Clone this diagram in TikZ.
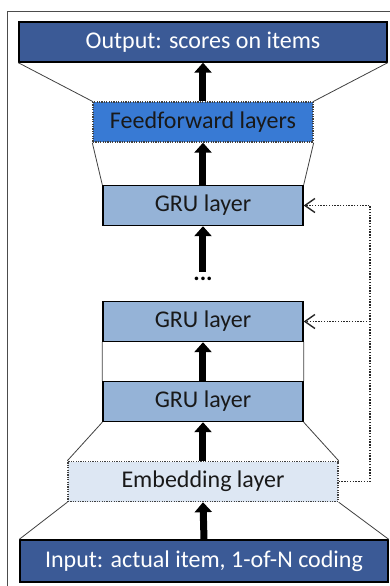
\documentclass[tikz,border=0pt]{standalone}
\usepackage{fontspec}
\setmainfont{Carlito}
\usetikzlibrary{arrows.meta,positioning}

\definecolor{darkblue}{RGB}{59,90,150}
\definecolor{ffblue}{RGB}{56,122,212}
\definecolor{grublue}{RGB}{149,179,215}
\definecolor{embblue}{RGB}{221,231,243}

\begin{document}
\begin{tikzpicture}[x=0.5pt,y=-0.5pt,node distance=40pt,
                    semithick]
  \tikzstyle{layer}=[draw=black,line width=0.7pt,inner sep=0pt,minimum height=20pt,
                     font=\fontsize{12}{14}\selectfont,text=black!90]
  \tikzstyle{io}=[layer,fill=darkblue,text=white!95,minimum width=184pt]
  \tikzstyle{gru}=[layer,fill=grublue,minimum width=100pt]
  \tikzstyle{dotlayer}=[layer,dash pattern=on 0.6pt off 0.6pt,draw=black!75]
  \tikzstyle{funnel}=[draw=black!75,line width=0.4pt]
  \tikzstyle{up}=[line width=3.5pt,-{Triangle[width=8.5pt,length=5pt]}]
  \tikzstyle{feedback}=[dash pattern=on 0.7pt off 0.7pt,line width=0.9pt,draw=black!85,
                        -{Straight Barb[length=5pt,width=7pt,line width=0.7pt]}]

  \useasboundingbox (0,0) rectangle (390,586);
  \clip (0,0) rectangle (390,586);
  \draw[black!70,line width=0.5pt] (8,11) rectangle (420,620);

  \node[io]                       (OUT)  at (203,42)   {Output: scores on items};
  \node[dotlayer,fill=ffblue,minimum width=110pt] (FF) [below of=OUT] {Feedforward layers};
  \node[gru]                      (GRU3) at (203,205.5) {GRU layer};
  \node[font=\fontsize{12}{14}\bfseries] (DOTS) at (203,279) {...};
  \node[gru]                      (GRU2) at (203,321.5) {GRU layer};
  \node[gru]                      (GRU1) [below of=GRU2] {GRU layer};
  \node[dotlayer,fill=embblue,minimum width=135pt] (EMB) [below of=GRU1] {Embedding layer};
  \node[io,minimum height=21pt]   (IN)   at (204,561)  {Input: actual item, 1-of-N coding};

  % funnel outlines
  \draw[funnel] (OUT.south west) -- (FF.north west)
                (OUT.south east) -- (FF.north east)
                (FF.south west)  -- (GRU3.north west)
                (FF.south east)  -- (GRU3.north east)
                (GRU2.south west) -- (GRU1.north west)
                (GRU2.south east) -- (GRU1.north east)
                (GRU1.south west) -- (EMB.north west)
                (GRU1.south east) -- (EMB.north east)
                (EMB.south west) -- (IN.north west)
                (EMB.south east) -- (IN.north east);

  % forward arrows
  \draw[up] (FF.north)   -- (OUT.south);
  \draw[up] (GRU3.north) -- (FF.south);
  \draw[up] ([yshift=-1pt]DOTS.north) -- (GRU3.south);
  \draw[up] (GRU1.north) -- (GRU2.south);
  \draw[up] (EMB.north)  -- (GRU1.south);
  \draw[up] (IN.north)   -- (EMB.south);

  % recurrent feedback
  \coordinate (FB) at (370,205.5);
  \draw[feedback] (EMB.east) -| (FB) -- (GRU3.east);
  \draw[feedback] (GRU2.east -| FB) -- (GRU2.east);
\end{tikzpicture}
\end{document}
